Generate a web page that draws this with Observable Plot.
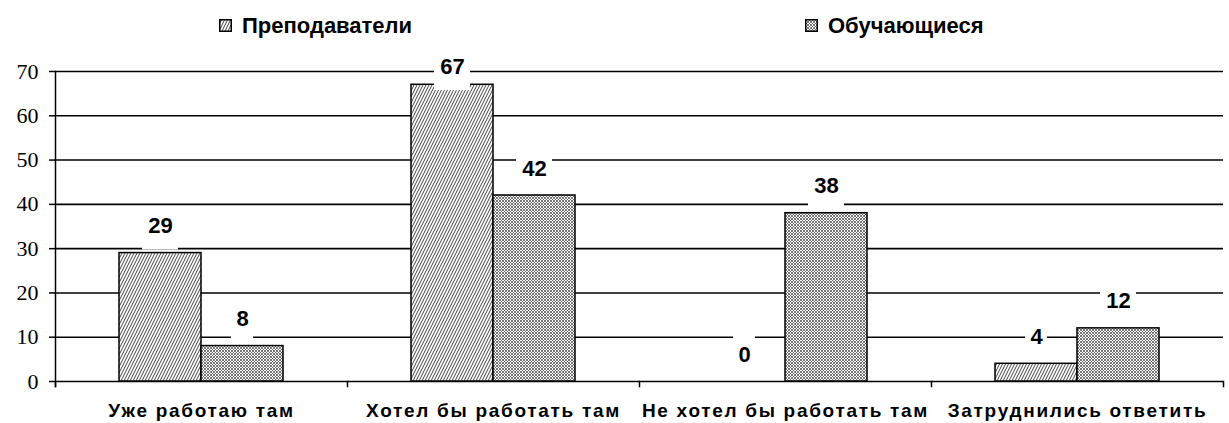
<!DOCTYPE html>
<html>
<head>
<meta charset="utf-8">
<script src="https://cdn.jsdelivr.net/npm/d3@7"></script>
<script src="https://cdn.jsdelivr.net/npm/@observablehq/plot@0.6"></script>
<style>
  html, body { margin: 0; padding: 0; background: #fff; }
  #legend { position: relative; width: 1229px; height: 45px; font-family: "Liberation Sans", Arial, sans-serif; font-weight: bold; font-size: 22px; }
  #legend .sw { position: absolute; top: 19px; width: 13px; height: 13px; }
  #legend .lb { position: absolute; top: 15px; line-height: 22px; white-space: nowrap; color: #000; }
  #chart svg { display: block; }
  #chart [aria-label="fx-axis tick label"] text { letter-spacing: 1.7px; }
</style>
</head>
<body>
<div id="legend"></div>
<div id="chart"></div>
<script>
const categories = ["Уже работаю там", "Хотел бы работать там", "Не хотел бы работать там", "Затруднились ответить"];
const series = ["Преподаватели", "Обучающиеся"];
const teachers = [29, 67, 0, 4];
const students = [8, 42, 38, 12];
const yTicks = [0, 10, 20, 30, 40, 50, 60, 70];

const patternIds = ["hatchTeachers", "hatchStudents"];
const rows = [];
categories.forEach((c, i) => {
  rows.push({category: c, series: series[0], value: teachers[i]});
  rows.push({category: c, series: series[1], value: students[i]});
});

const labelBase = d => Math.min(d.value, 65);
const sans = "Liberation Sans, Arial, sans-serif";

const chart = Plot.plot({
  width: 1229,
  height: 378,
  marginTop: 26,
  marginLeft: 54,
  marginRight: 5,
  marginBottom: 42,
  style: {background: "#fff", color: "#000", overflow: "visible"},
  y: {domain: [0, 70], axis: null},
  fx: {domain: categories, padding: 0, axis: null},
  x: {domain: series, paddingInner: 0, paddingOuter: 0.765, axis: null},
  color: {domain: series, range: patternIds.map(id => `url(#${id})`)},
  marks: [
    Plot.ruleY(yTicks, {stroke: "#000", strokeWidth: 1.6}),
    Plot.barY(rows.filter(d => d.value > 0), {fx: "category", x: "series", y: "value", fill: "series", stroke: "#000", strokeWidth: 1.5}),
    Plot.barY(rows.filter(d => String(d.value).length > 1), {fx: "category", x: "series", y1: d => labelBase(d) + 0.7, y2: d => labelBase(d) + 10.2, fill: "#fff", insetLeft: 23, insetRight: 23}),
    Plot.barY(rows.filter(d => String(d.value).length === 1), {fx: "category", x: "series", y1: d => labelBase(d) + 0.7, y2: d => labelBase(d) + 10.2, fill: "#fff", insetLeft: 30, insetRight: 30}),
    Plot.text(rows, {fx: "category", x: "series", y: labelBase, text: d => String(d.value), dy: -27, fontSize: 22, fontWeight: "bold", fontFamily: sans, fill: "#000"}),
    Plot.axisY({ticks: yTicks, label: null, tickSize: 6, tickPadding: 11, strokeWidth: 1.5, fontSize: 22, fontFamily: "Liberation Serif, Times New Roman, serif", tickFormat: d => String(d)}),
    Plot.frame({anchor: "left", facetAnchor: "left", insetBottom: -5, stroke: "#000", strokeWidth: 1.5}),
    Plot.frame({anchor: "left", insetTop: 310, insetBottom: -5, stroke: "#000", strokeWidth: 1.5}),
    Plot.frame({anchor: "right", facetAnchor: "right", insetTop: 310, insetBottom: -5, stroke: "#000", strokeWidth: 1.5}),
    Plot.axisFx({anchor: "bottom", label: null, tickSize: 0, tickPadding: 22, fontSize: 19, fontWeight: "bold", fontFamily: sans})
  ]
});

// hatch patterns
const NS = "http://www.w3.org/2000/svg";
const defs = document.createElementNS(NS, "defs");
function makePattern(id, w, h, bg, lines, color, sw) {
  const p = document.createElementNS(NS, "pattern");
  p.setAttribute("id", id);
  p.setAttribute("patternUnits", "userSpaceOnUse");
  p.setAttribute("width", w);
  p.setAttribute("height", h);
  const r = document.createElementNS(NS, "rect");
  r.setAttribute("width", w); r.setAttribute("height", h); r.setAttribute("fill", bg);
  p.appendChild(r);
  lines.forEach(([x1, y1, x2, y2]) => {
    const l = document.createElementNS(NS, "line");
    l.setAttribute("x1", x1); l.setAttribute("y1", y1);
    l.setAttribute("x2", x2); l.setAttribute("y2", y2);
    l.setAttribute("stroke", color); l.setAttribute("stroke-width", sw);
    p.appendChild(l);
  });
  defs.appendChild(p);
}
makePattern(patternIds[0], 3, 6, "#fff", [[0, 6, 3, 0], [-3, 6, 0, 0], [3, 6, 6, 0]], "#444", 1);
makePattern(patternIds[1], 3, 3, "#fff", [[0, 0, 3, 3], [0, 3, 3, 0]], "#555", 0.8);
chart.insertBefore(defs, chart.firstChild);

document.getElementById("chart").appendChild(chart);

// legend
const legend = document.getElementById("legend");
const legendX = [219, 805];
series.forEach((s, i) => {
  const sw = document.createElementNS(NS, "svg");
  sw.setAttribute("class", "sw");
  sw.setAttribute("width", 13); sw.setAttribute("height", 13);
  sw.style.left = legendX[i] + "px";
  const r = document.createElementNS(NS, "rect");
  r.setAttribute("x", 0.75); r.setAttribute("y", 0.75);
  r.setAttribute("width", 11.5); r.setAttribute("height", 11.5);
  r.setAttribute("fill", `url(#${patternIds[i]})`);
  r.setAttribute("stroke", "#000"); r.setAttribute("stroke-width", 1.5);
  sw.appendChild(r);
  legend.appendChild(sw);
  const lb = document.createElement("span");
  lb.className = "lb";
  lb.style.left = (legendX[i] + 23) + "px";
  lb.textContent = s;
  legend.appendChild(lb);
});
</script>
</body>
</html>
